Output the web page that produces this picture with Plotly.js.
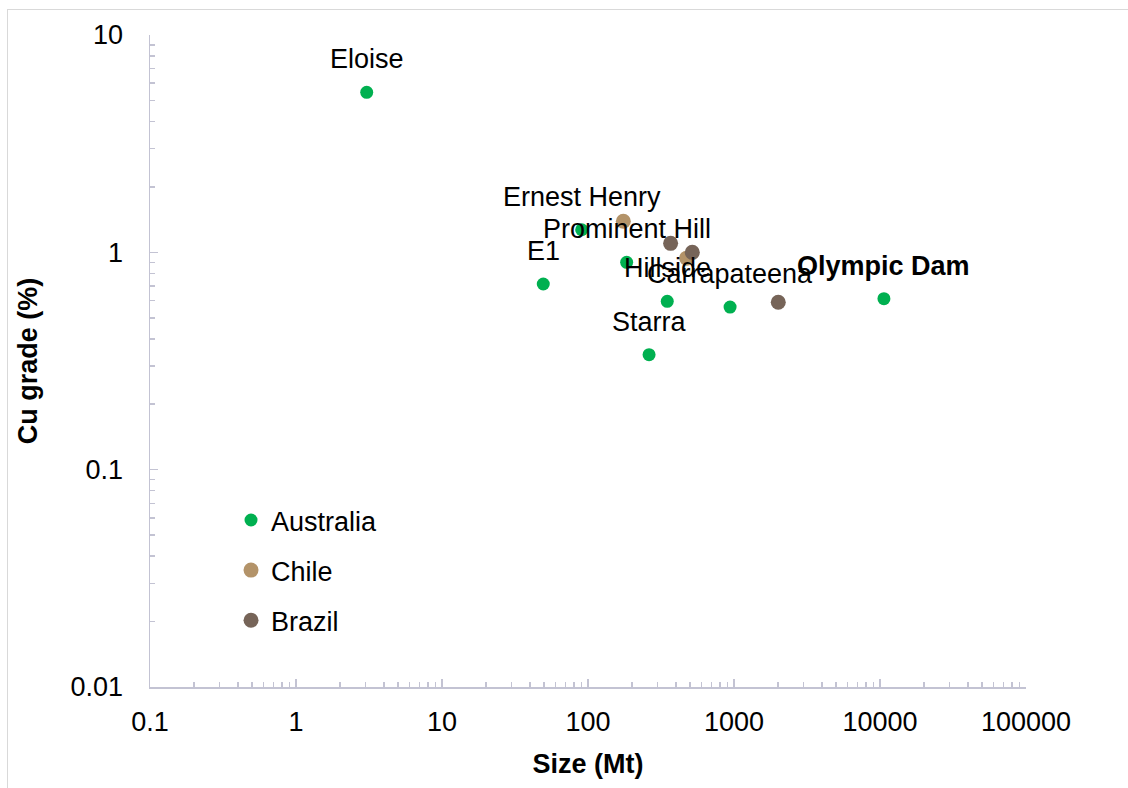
<!DOCTYPE html>
<html>
<head>
<meta charset="utf-8">
<script src="https://cdn.plot.ly/plotly-3.0.1.min.js"></script>
<style>
  html, body { margin: 0; padding: 0; background: #ffffff; }
  #frame { position: absolute; left: 7px; top: 9px; width: 1140px; height: 800px; border: 1px solid #d9d9d9; box-sizing: border-box; }
  #chart { position: absolute; left: 0; top: 0; width: 1128px; height: 788px; }
</style>
</head>
<body>
<div id="frame"></div>
<div id="chart"></div>
<script>
// Australia deposits
const ausNames = ["Eloise", "Ernest Henry", "E1", "Prominent Hill", "Hillside", "Starra", "Carrapateena", "Olympic Dam"];
const ausSize  = [3.05, 90.5, 49.4, 184, 349, 262, 940, 10640];
const ausGrade = [5.45, 1.27, 0.715, 0.90, 0.595, 0.338, 0.56, 0.612];

// Chile deposits
const chileSize  = [174.6, 474];
const chileGrade = [1.39, 0.94];

// Brazil deposits
const brazilSize  = [368, 518, 2010];
const brazilGrade = [1.10, 1.00, 0.589];

const seriesNames = ["Australia", "Chile", "Brazil"];
const highlighted = "Olympic Dam";

// Tick labels
const xTickVals   = [0.1, 1, 10, 100, 1000, 10000, 100000];
const xTickLabels = ["0.1", "1", "10", "100", "1000", "10000", "100000"];
const yTickVals   = [0.01, 0.1, 1, 10];
const yTickLabels = ["0.01", "0.1", "1", "10"];

const FONT = "Liberation Sans, Arial, sans-serif";
const FS = 27;

const traces = [
  { x: ausSize, y: ausGrade, name: seriesNames[0], legendgroup: "a", type: "scatter", mode: "markers",
    marker: { color: "#00b050", size: 13 }, hoverinfo: "x+y" },
  { x: chileSize, y: chileGrade, name: seriesNames[1], legendgroup: "b", type: "scatter", mode: "markers",
    marker: { color: "#b39369", size: 15 }, hoverinfo: "x+y" },
  { x: brazilSize, y: brazilGrade, name: seriesNames[2], legendgroup: "c", type: "scatter", mode: "markers",
    marker: { color: "#766458", size: 15 }, hoverinfo: "x+y" }
];

const annotations = ausNames.map((n, i) => ({
  x: Math.log10(ausSize[i]), y: Math.log10(ausGrade[i]), xref: "x", yref: "y",
  text: n === highlighted ? "<b>" + n + "</b>" : n,
  showarrow: false, xanchor: "center", yanchor: "middle", yshift: 33,
  font: { family: FONT, size: FS, color: "#000000" }
}));

const axisCommon = {
  type: "log", showgrid: false, zeroline: false, showline: true,
  linecolor: "#c3c3d3", linewidth: 1.5, mirror: false,
  ticks: "inside", ticklen: 8, tickwidth: 1.5, tickcolor: "#c3c3d3",
  tickmode: "array",
  minor: { ticks: "inside", ticklen: 5, tickwidth: 1.5, tickcolor: "#c3c3d3", dtick: "D1", showgrid: false },
  tickfont: { family: FONT, size: FS, color: "#000000" },
  automargin: false
};

const layout = {
  width: 1128, height: 788,
  paper_bgcolor: "rgba(0,0,0,0)", plot_bgcolor: "rgba(0,0,0,0)",
  margin: { l: 150, r: 102, t: 35, b: 101 },
  font: { family: FONT, size: FS, color: "#000000" },
  xaxis: Object.assign({}, axisCommon, {
    range: [-1, 5],
    tickvals: xTickVals, ticktext: xTickLabels,
    ticklabelstandoff: 10,
    title: { text: "<b>Size (Mt)</b>", font: { family: FONT, size: FS, color: "#000000" }, standoff: 18 }
  }),
  yaxis: Object.assign({}, axisCommon, {
    range: [-2, 1],
    tickvals: yTickVals, ticktext: yTickLabels,
    ticklabelstandoff: 20,
    title: { text: "<b>Cu grade (%)</b>", font: { family: FONT, size: FS, color: "#000000" }, standoff: 25 }
  }),
  showlegend: true,
  legend: {
    x: 0.0925, y: 0.293, xanchor: "left", yanchor: "top",
    bgcolor: "rgba(0,0,0,0)", borderwidth: 0,
    font: { family: FONT, size: FS, color: "#000000" },
    tracegroupgap: 12, orientation: "v"
  },
  annotations: annotations
};

Plotly.newPlot("chart", traces, layout, { displayModeBar: false, staticPlot: true });
</script>
</body>
</html>
